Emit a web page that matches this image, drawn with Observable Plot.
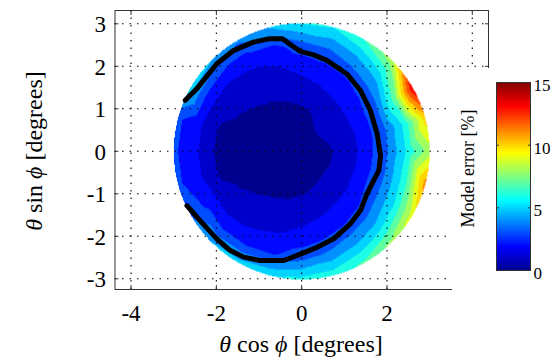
<!DOCTYPE html>
<html>
<head>
<meta charset="utf-8">
<script src="https://cdn.jsdelivr.net/npm/d3@7"></script>
<script src="https://cdn.jsdelivr.net/npm/@observablehq/plot@0.6"></script>
<style>
html,body{margin:0;padding:0;background:#fff;}
#wrap{position:relative;width:553px;height:359px;overflow:hidden;font-family:"Liberation Serif",serif;color:#000;}
#wrap svg{position:absolute;}
#wrap svg text{font-family:"Liberation Serif",serif !important;}
.title{position:absolute;white-space:nowrap;font-size:24px;line-height:1;transform:translate(-50%,-50%);}
.title.rot{transform:translate(-50%,-50%) rotate(-90deg);}
</style>
</head>
<body>
<div id="wrap"></div>
<script>
// ---------------- data ----------------
// sample directions (degrees, counter-clockwise from +x) and radii (degrees)
const angleDeg = [0,15,30,45,60,75,90,105,120,135,150,165,180,195,210,225,240,255,270,285,300,315,330,345];
const radii = [1, 2, 2.5, 3];
const centerError = 0.6;
// model error [%] on each ring, one value per direction
const errorR1  = [1.15,1.2,1.3,1.35,1.25,1.05,0.9,0.75,0.65,0.6,0.5,0.5,0.5,0.5,0.5,0.6,0.7,0.8,0.95,1.05,1.1,1.15,1.15,1.15];
const errorR2  = [3.9,3.8,3.7,3.3,2.9,2.6,2.3,1.9,1.6,1.4,1.2,0.9,0.85,0.9,1.2,1.5,1.8,2.0,2.3,2.6,3.0,3.3,3.8,3.9];
const errorR25 = [6.3,6.3,7.5,5.3,4.6,4.0,3.6,2.6,2.4,2.3,2.4,2.2,2.2,2.2,2.7,2.5,2.6,2.9,3.6,4.2,4.8,5.3,6.0,6.5];
const errorR3  = [8.5,10.5,14.0,8.5,7.0,6.0,6.0,5.0,4.2,5.0,5.5,3.2,3.2,3.2,3.8,5.0,5.3,5.8,6.2,6.5,7.2,8.3,9.5,11.5];
// black contour line
const contourX = [-2.73,-2.46,-1.99,-1.6,-1.13,-0.75,-0.45,-0.25,-0.03,0.28,0.59,1.06,1.38,1.61,1.77,1.85,1.81,1.65,1.53,1.38,1.14,0.75,0.36,-0.03,-0.42,-0.97,-1.36,-1.68,-1.99,-2.38,-2.69];
const contourY = [1.2,1.47,2.06,2.37,2.57,2.65,2.65,2.5,2.35,2.27,2.14,1.82,1.43,0.96,0.41,-0.1,-0.45,-0.76,-1.0,-1.39,-1.71,-2.06,-2.26,-2.42,-2.57,-2.57,-2.49,-2.33,-2.06,-1.63,-1.28];
// ticks and levels
const xTicks = [-4,-2,0,2,4];
const yTicks = [-3,-2,-1,0,1,2,3];
const levels = [1,2,3,4,5,6,7,8,9,10,11,12,13,14];
const cbTicks = [0,5,10,15];
const cbLabel = "Model error [%]";

// ---------------- build tables ----------------
const ringErrors = [errorR1, errorR2, errorR25, errorR3];
const samples = [{x: 0, y: 0, e: centerError}];
radii.forEach((r, ri) => angleDeg.forEach((a, ai) => {
  const t = a * Math.PI / 180;
  samples.push({x: r * Math.cos(t), y: r * Math.sin(t), e: ringErrors[ri][ai]});
}));
const contour = contourX.map((x, i) => ({x, y: contourY[i]}));

// MATLAB "jet" colormap
const jet = d3.scaleLinear()
  .domain([0, 0.125, 0.375, 0.625, 0.875, 1])
  .range(["#00008f", "#0000ff", "#00ffff", "#ffff00", "#ff0000", "#800000"])
  .interpolate(d3.interpolateRgb);
// each filled band takes the colour of its lower level (as contourf does)
const bandColors = [0, ...levels].map((l) => jet(l / 15));

// barycentric interpolation, restricted to the sampled disk
const bary = Plot.interpolatorBarycentric();
function diskInterp(index, w, h, X, Y, V) {
  const out = bary(index, w, h, X, Y, V);
  const c = index[0];
  const cx = X[c], cy = Y[c];
  let R = 0;
  for (const i of index) R = Math.max(R, Math.hypot(X[i] - cx, Y[i] - cy));
  for (let j = 0; j < h; ++j)
    for (let i = 0; i < w; ++i)
      if (Math.hypot(i + 0.5 - cx, j + 0.5 - cy) > R) out[j * w + i] = NaN;
  return out;
}

const font = "Liberation Serif";

const main = Plot.plot({
  width: 553, height: 359,
  marginLeft: 114.5, marginRight: 65, marginTop: 10, marginBottom: 70,
  x: {domain: [-4.376, 4.38]},
  y: {domain: [-3.252, 3.313]},
  color: {type: "threshold", domain: levels, range: bandColors},
  style: {fontFamily: font, fontSize: "23px", background: "transparent", color: "#000"},
  marks: [
    Plot.raster(samples, {x: "x", y: "y", fill: "e", interpolate: diskInterp}),
    Plot.gridX({ticks: xTicks, stroke: "#000", strokeOpacity: 1, strokeWidth: 1.1, strokeDasharray: "1.5,6"}),
    Plot.gridY({ticks: yTicks, stroke: "#000", strokeOpacity: 1, strokeWidth: 1.1, strokeDasharray: "1.5,6"}),
    Plot.line(contour, {x: "x", y: "y", stroke: "#000", strokeWidth: 5, strokeLinejoin: "round"}),
    Plot.frame({stroke: "#333"}),
    Plot.axisX({ticks: xTicks, anchor: "bottom", tickSize: -4, tickFormat: () => "", label: null, stroke: "#333"}),
    Plot.axisX({ticks: xTicks, anchor: "top", tickSize: -4, tickFormat: () => "", label: null, stroke: "#333"}),
    Plot.axisY({ticks: yTicks, anchor: "left", tickSize: -4, tickFormat: () => "", label: null, stroke: "#333"}),
    Plot.axisY({ticks: yTicks, anchor: "right", tickSize: -4, tickFormat: () => "", label: null, stroke: "#333"}),
    Plot.axisX({ticks: xTicks, anchor: "bottom", tickSize: 0, tickPadding: 15, tickFormat: (d) => String(d), label: null, fontSize: 23, fontFamily: font}),
    Plot.axisY({ticks: yTicks, anchor: "left", tickSize: 0, tickPadding: 9, tickFormat: (d) => String(d), label: null, fontSize: 23, fontFamily: font, dy: 1})
  ]
});
main.style.left = "0px"; main.style.top = "0px";

const cb = Plot.plot({
  width: 101, height: 291,
  marginLeft: 44, marginRight: 23, marginTop: 14, marginBottom: 89,
  x: {domain: [0, 1], axis: null},
  y: {domain: [0, 15]},
  color: {type: "linear", domain: [0, 15], interpolate: (t) => jet(t)},
  style: {fontFamily: font, fontSize: "17px", background: "#fff", color: "#000"},
  marks: [
    Plot.raster({fill: (x, y) => y, x1: 0, x2: 1, y1: 0, y2: 15}),
    Plot.frame({stroke: "#333"}),
    Plot.axisY({ticks: cbTicks, anchor: "right", tickSize: -3, tickFormat: () => "", label: null, stroke: "#333"}),
    Plot.axisY({ticks: cbTicks, anchor: "left", tickSize: -3, tickFormat: () => "", label: null, stroke: "#333"}),
    Plot.axisY({ticks: cbTicks, anchor: "right", tickSize: 0, tickPadding: 3, tickFormat: (d) => String(d), label: null, fontSize: 17, fontFamily: font, dy: 3}),
    Plot.text([cbLabel], {text: (d) => d, frameAnchor: "left", textAnchor: "middle", lineAnchor: "middle", rotate: -90, dx: -28, dy: -8, fontSize: 18, fontFamily: font, fill: "#000"})
  ]
});
cb.style.left = "452px"; cb.style.top = "68px";

const wrap = document.getElementById("wrap");
wrap.appendChild(main);
wrap.appendChild(cb);
// make sure every SVG text uses the serif face
wrap.querySelectorAll("svg, svg g, svg text").forEach((el) => {
  el.setAttribute("font-family", "Liberation Serif");
  el.style.fontFamily = "'Liberation Serif', serif";
});

const xt = document.createElement("div");
xt.className = "title";
xt.style.left = "301px"; xt.style.top = "344px";
xt.innerHTML = "<i>θ</i> cos <i>ϕ</i> [degrees]";
wrap.appendChild(xt);

const yt = document.createElement("div");
yt.className = "title rot";
yt.style.left = "34px"; yt.style.top = "151px";
yt.innerHTML = "<i>θ</i> sin <i>ϕ</i> [degrees]";
wrap.appendChild(yt);
</script>
</body>
</html>
